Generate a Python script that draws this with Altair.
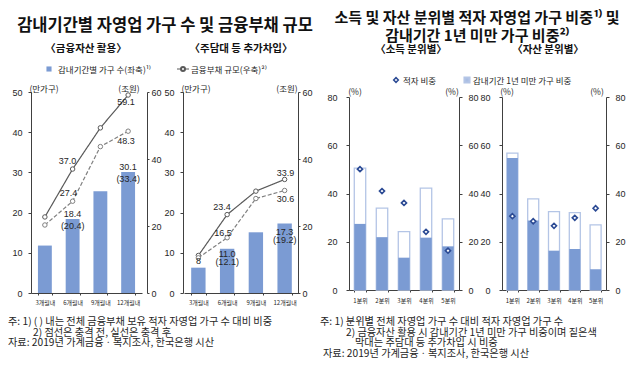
import altair as alt
import pandas as pd

# ---------------- data ----------------
periods = ["3개월내", "6개월내", "9개월내", "12개월내"]
asset_households = [11.8, 18.4, 25.3, 30.1]
asset_debt_after = [22.7, 37.0, 49.3, 59.1]
asset_debt_before = [20.3, 27.4, 43.7, 48.3]
asset_share = [None, 20.4, None, 33.4]

loan_households = [6.3, 11.0, 15.1, 17.3]
loan_debt_after = [11.2, 23.4, 30.4, 33.9]
loan_debt_before = [10.5, 16.5, 28.2, 30.6]
loan_share = [None, 12.1, None, 19.2]

quintiles = ["1분위", "2분위", "3분위", "4분위", "5분위"]
income_deficit = [50.1, 41.0, 36.1, 24.1, 16.3]
income_short_asset = [50.5, 33.9, 24.2, 42.2, 29.5]
income_short_loan = [27.4, 21.9, 13.4, 21.7, 18.1]
wealth_deficit = [30.6, 28.5, 26.6, 29.9, 33.9]
wealth_short_asset = [56.7, 37.8, 32.5, 32.1, 27.0]
wealth_short_loan = [54.7, 28.8, 16.3, 17.0, 8.6]

household_ticks = [0, 10, 20, 30, 40, 50]
debt_ticks = [0, 20, 40, 60]
pct_ticks = [0, 20, 40, 60, 80]

# ---------------- style ----------------
KR = "Noto Sans CJK KR"
NUM = "Liberation Sans"
BAR = "#7b9bd3"
BAR_LIGHT = "#b4c5e6"
LINE_SOLID = "#595959"
LINE_DASH = "#808080"
DIAMOND = "#2b4a94"
AXIS = "#404040"
TXT = "#262626"
H = 201
ONE = pd.DataFrame({"k": [0]})


def y_axis(orient, values, tick, pad, offset=0):
    return alt.Axis(orient=orient, values=values, title=None, grid=False,
                    tickSize=tick, labelPadding=pad, offset=offset,
                    labelFont=NUM, labelFontSize=9, labelColor=TXT,
                    domainColor=AXIS, tickColor=AXIS)


def x_axis(pad, offset=0):
    return alt.Axis(orient="bottom", title=None, labelAngle=0, labelFont=KR, labelFontSize=6,
                    labelColor=TXT, domainColor=AXIS, tickColor=AXIS,
                    tickSize=2, tickBand="extent", labelPadding=pad,
                    offset=offset, grid=False)


def note(text, x, y, size=9, weight="normal", align="left", font=KR, color=TXT):
    return alt.Chart(ONE).mark_text(align=align, baseline="middle", fontSize=size,
                                    fontWeight=weight, font=font, color=color).encode(
        x=alt.value(x), y=alt.value(y), text=alt.value(text))


def data_label(field_x, cat, value, text, dx, dy, xs, ys):
    df = pd.DataFrame({field_x: [cat], "value": [value], "text": [text]})
    return alt.Chart(df).mark_text(dx=dx, dy=dy, font=NUM, fontSize=9, color=TXT).encode(
        x=alt.X(f"{field_x}:N", scale=xs, axis=None),
        y=alt.Y("value:Q", scale=ys, axis=None),
        text="text:N")


def duration_layers(x_range, right_offset, households, after, before, share,
                    bar_specs, line_specs, extra=None):
    def xs():
        return alt.Scale(domain=periods, range=x_range, paddingInner=0.5, paddingOuter=0.25)

    def yl():
        return alt.Scale(domain=[0, 50], range=[H, 0], nice=False)

    def yr():
        return alt.Scale(domain=[0, 60], range=[H, 0], nice=False)

    df_bar = pd.DataFrame({"period": periods, "value": households})
    df_after = pd.DataFrame({"period": periods, "value": after})
    df_before = pd.DataFrame({"period": periods, "value": before})

    layers = [alt.Chart(df_bar).mark_bar(color=BAR).encode(
        x=alt.X("period:N", scale=xs(), axis=x_axis(4)),
        y=alt.Y("value:Q", scale=yl(), axis=y_axis("left", household_ticks, 3, 6)))]

    def line(df, color, dash, with_axis):
        return alt.Chart(df).mark_line(color=color, strokeWidth=1.2, strokeDash=dash).encode(
            x=alt.X("period:N", scale=xs(), axis=None),
            y=alt.Y("value:Q", scale=yr(),
                    axis=y_axis("right", debt_ticks, 2, 2, right_offset) if with_axis else None))

    def pts(df, color):
        return alt.Chart(df).mark_point(shape="circle", filled=True, fill="white",
                                        stroke=color, strokeWidth=1, size=20, opacity=1).encode(
            x=alt.X("period:N", scale=xs(), axis=None),
            y=alt.Y("value:Q", scale=yr(), axis=None))

    layers += [line(df_after, LINE_SOLID, [1, 0], True),
               line(df_before, LINE_DASH, [4, 2], False),
               pts(df_after, LINE_SOLID), pts(df_before, LINE_DASH)]

    for i, dy_val, dy_share in bar_specs:
        layers.append(data_label("period", periods[i], households[i],
                                 f"{households[i]:.1f}", 0, dy_val, xs(), yl()))
        layers.append(data_label("period", periods[i], households[i],
                                 f"({share[i]:.1f})", 0, dy_share, xs(), yl()))
    series = {"after": after, "before": before}
    for i, key, dx, dy in line_specs:
        v = series[key][i]
        layers.append(data_label("period", periods[i], v, f"{v:.1f}", dx, dy, xs(), yr()))
    if extra:
        for i, key, text, dx, dy in extra:
            layers.append(data_label("period", periods[i], series[key][i], text, dx, dy, xs(), yr()))
    return layers


def quintile_layers(x_range, right_offset, deficit, short_asset, short_loan, pi):
    def xs():
        return alt.Scale(domain=quintiles, range=x_range, paddingInner=pi, paddingOuter=pi / 2)

    def ys():
        return alt.Scale(domain=[0, 80], range=[198, 5], nice=False)

    df = pd.DataFrame({"q": quintiles, "deficit": deficit, "asset": short_asset, "loan": short_loan})
    outline = alt.Chart(df).mark_bar(fill="white", stroke=BAR_LIGHT, strokeWidth=1.3).encode(
        x=alt.X("q:N", scale=xs(), axis=x_axis(5, -3)),
        y=alt.Y("asset:Q", scale=ys(), axis=y_axis("left", pct_ticks, 3, 9)))
    filled = alt.Chart(df).mark_bar(color=BAR).encode(
        x=alt.X("q:N", scale=xs(), axis=None),
        y=alt.Y("loan:Q", scale=ys(), axis=None))
    diam = alt.Chart(df).mark_point(shape="diamond", filled=True, fill="white", stroke=DIAMOND,
                                    strokeWidth=1.6, size=26, opacity=1).encode(
        x=alt.X("q:N", scale=xs(), axis=None),
        y=alt.Y("deficit:Q", scale=ys(), axis=y_axis("right", pct_ticks, 3, 6, right_offset)))
    return [outline, filled, diam]


# ---------------- annotations (relative to first panel) ----------------
FN = 10.2
notes = [
    alt.Chart(ONE).mark_rule(strokeOpacity=0, strokeWidth=1).encode(
        x=alt.value(0), x2=alt.value(20), y=alt.value(-83.5)),
    note("감내기간별 자영업 가구 수 및 금융부채 규모", 134, -66, 16.5, "bold", "center", color="#111"),
    note("소득 및 자산 분위별 적자 자영업 가구 비중¹⁾ 및", 446, -74, 15, "bold", "center", color="#111"),
    note("감내기간 1년 미만 가구 비중²⁾", 446, -56, 15, "bold", "center", color="#111"),
    note("〈금융자산 활용〉", 55, -43, 10.5, "bold", "center", color="#111"),
    note("〈주담대 등 추가차입〉", 210, -43, 10.5, "bold", "center", color="#111"),
    note("〈소득 분위별〉", 380, -42, 10.5, "bold", "center", color="#111"),
    note("〈자산 분위별〉", 517, -42, 10.5, "bold", "center", color="#111"),
    note("감내기간별 가구 수(좌축)¹⁾", 27, -22, 8.5),
    note("금융부채 규모(우축)²⁾", 160, -22, 8.5),
    note("적자 비중", 372, -11, 8.5),
    note("감내기간 1년 미만 가구 비중", 442, -11, 8.5),
    note("(만가구)", 13, -3, 8.5, align="center"),
    note("(조원)", 98, -3, 8.5, align="center"),
    note("(만가구)", 165, -3, 8.5, align="center"),
    note("(조원)", 256, -3, 8.5, align="center"),
    note("(%)", 324, 0, 8.5, align="center"),
    note("(%)", 421, 0, 8.5, align="center"),
    note("(%)", 476, 0, 8.5, align="center"),
    note("(%)", 566, 0, 8.5, align="center"),
    note("주: 1) ( ) 내는 전체 금융부채 보유 적자 자영업 가구 수 대비 비중", -23, 230, FN),
    note("2) 점선은 충격 전, 실선은 충격 후", 2, 240.5, FN),
    note("자료: 2019년 가계금융ㆍ복지조사, 한국은행 시산", -23, 251, FN),
    note("주: 1) 분위별 전체 자영업 가구 수 대비 적자 자영업 가구 수", 289, 230, FN),
    note("2) 금융자산 활용 시 감내기간 1년 미만 가구 비중이며 짙은색", 315, 240.5, FN),
    note("막대는 주담대 등 추가차입 시 비중", 324, 251, FN),
    note("자료: 2019년 가계금융ㆍ복지조사, 한국은행 시산", 292, 261.5, FN),
    alt.Chart(ONE).mark_point(shape="square", filled=True, color=BAR, size=26, opacity=1).encode(
        x=alt.value(18), y=alt.value(-23)),
    alt.Chart(ONE).mark_rule(color=LINE_SOLID, strokeWidth=1).encode(
        x=alt.value(146), x2=alt.value(158), y=alt.value(-23)),
    alt.Chart(ONE).mark_point(shape="circle", filled=True, fill="white", stroke=LINE_SOLID,
                              size=16, opacity=1).encode(x=alt.value(152), y=alt.value(-23)),
    alt.Chart(ONE).mark_point(shape="diamond", filled=True, fill="white", stroke=DIAMOND,
                              strokeWidth=1.5, size=22, opacity=1).encode(x=alt.value(365), y=alt.value(-12)),
    alt.Chart(ONE).mark_point(shape="square", filled=True, fill="#a9bde3", stroke=BAR_LIGHT,
                              size=26, opacity=1).encode(x=alt.value(436), y=alt.value(-12)),
]

IND = dict(x="independent", y="independent")

p1 = alt.layer(
    *duration_layers([0, 111], 0, asset_households, asset_debt_after, asset_debt_before,
                     asset_share, [(1, -5, 7), (3, -5, 7)],
                     [(1, "after", -5, -8), (1, "before", -4, -8), (3, "after", -2, 7), (3, "before", -2, 10)]),
    *notes
).resolve_scale(**IND).properties(width=116, height=H)

p2 = alt.layer(
    *duration_layers([1, 116], -15, loan_households, loan_debt_after, loan_debt_before,
                     loan_share, [(1, 5, 13), (3, 8.5, 17)],
                     [(3, "after", 1, -6), (3, "before", 1, 9), (1, "after", -5, -8), (1, "before", -4, -5)],
                     extra=[(0, "before", "8", 0, 3)])
).resolve_scale(**IND).properties(width=130, height=H)

p3 = alt.layer(
    *quintile_layers([0, 110], -7, income_deficit, income_short_asset, income_short_loan, 0.48)
).resolve_scale(**IND).properties(width=117, height=H)

p4 = alt.layer(
    *quintile_layers([0, 104], 0, wealth_deficit, wealth_short_asset, wealth_short_loan, 0.47)
).resolve_scale(**IND).properties(width=104, height=H)

chart = alt.hconcat(p1, p2, p3, p4, spacing=36, bounds="flush").properties(
    padding=0
).configure_view(stroke=None).configure_axis(grid=False)

chart.save("out.html", embed_options={"renderer": "svg", "actions": False})
